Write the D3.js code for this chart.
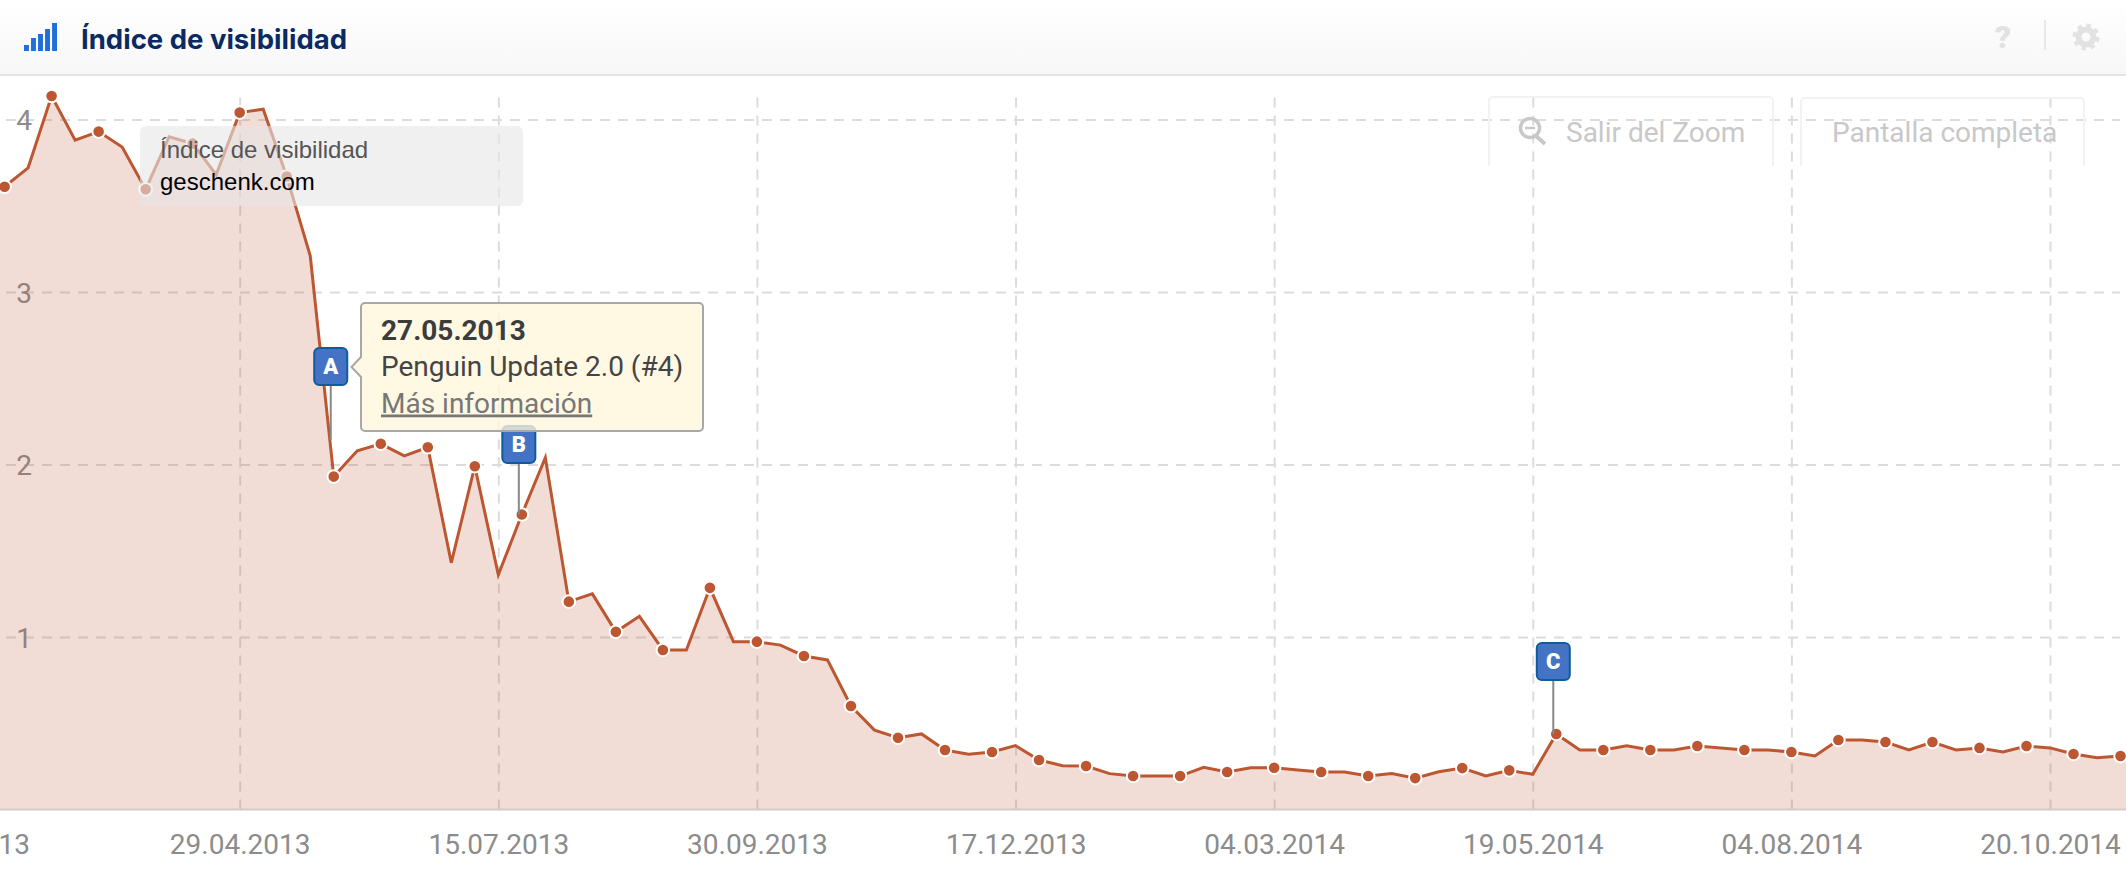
<!DOCTYPE html>
<html lang="es">
<head>
  <meta charset="UTF-8">
  <title>Índice de visibilidad</title>
  <style>
    html, body { margin: 0; padding: 0; background: #fff; overflow: hidden; }
    svg { display: block; font-family: Roboto, sans-serif; }
    .grid-axis path { display: none; }
    .grid-axis line { stroke: #dcdcdc; stroke-width: 2; stroke-dasharray: 10 8; }
    .grid-axis text { font-size: 28px; fill: #8c8c8c; font-family: Roboto, sans-serif; }
    .flag-label { font-size: 22px; font-weight: 900; fill: #fff; text-anchor: middle; }
  </style>
</head>
<body>
  <svg id="chart" width="2126" height="876"></svg>

  <script src="https://d3js.org/d3.v7.min.js"></script>
  <script>
    const weeks = [
      "2013-02-11","2013-02-18","2013-02-25","2013-03-04","2013-03-11","2013-03-18","2013-03-25","2013-04-01",
      "2013-04-08","2013-04-15","2013-04-22","2013-04-29","2013-05-06","2013-05-13","2013-05-20","2013-05-27",
      "2013-06-03","2013-06-10","2013-06-17","2013-06-24","2013-07-01","2013-07-08","2013-07-15","2013-07-22",
      "2013-07-29","2013-08-05","2013-08-12","2013-08-19","2013-08-26","2013-09-02","2013-09-09","2013-09-16",
      "2013-09-23","2013-09-30","2013-10-07","2013-10-14","2013-10-21","2013-10-28","2013-11-04","2013-11-11",
      "2013-11-18","2013-11-25","2013-12-02","2013-12-09","2013-12-16","2013-12-23","2013-12-30","2014-01-06",
      "2014-01-13","2014-01-20","2014-01-27","2014-02-03","2014-02-10","2014-02-17","2014-02-24","2014-03-03",
      "2014-03-10","2014-03-17","2014-03-24","2014-03-31","2014-04-07","2014-04-14","2014-04-21","2014-04-28",
      "2014-05-05","2014-05-12","2014-05-19","2014-05-26","2014-06-02","2014-06-09","2014-06-16","2014-06-23",
      "2014-06-30","2014-07-07","2014-07-14","2014-07-21","2014-07-28","2014-08-04","2014-08-11","2014-08-18",
      "2014-08-25","2014-09-01","2014-09-08","2014-09-15","2014-09-22","2014-09-29","2014-10-06","2014-10-13",
      "2014-10-20","2014-10-27","2014-11-03","2014-11-10","2014-11-17"
    ];
    const visibility = [
      3.55,3.61,3.72,4.136,3.88,3.93,3.84,3.595,
      3.90,3.86,3.68,4.04,4.06,3.67,3.21,1.93,
      2.08,2.12,2.05,2.10,1.43,1.99,1.36,1.71,
      2.04,1.205,1.25,1.03,1.12,0.925,0.925,1.285,
      0.973,0.973,0.953,0.89,0.867,0.60,0.46,0.416,
      0.438,0.345,0.32,0.333,0.37,0.287,0.254,0.252,
      0.208,0.194,0.194,0.194,0.245,0.217,0.242,0.242,
      0.229,0.217,0.217,0.194,0.208,0.182,0.219,0.24,
      0.194,0.227,0.204,0.438,0.345,0.345,0.37,0.345,
      0.345,0.368,0.357,0.345,0.345,0.333,0.31,0.403,
      0.403,0.391,0.345,0.391,0.345,0.357,0.333,0.368,
      0.357,0.322,0.30,0.31,0.32
    ];
    const yTicks = [1, 2, 3, 4];
    const xTicks = ["2013-02-11","2013-04-29","2013-07-15","2013-09-30","2013-12-16","2014-03-03","2014-05-19","2014-08-04","2014-10-20"];
    const xTickLabels = ["11.02.2013","29.04.2013","15.07.2013","30.09.2013","17.12.2013","04.03.2014","19.05.2014","04.08.2014","20.10.2014"];
    const flagWeeks = ["2013-05-27","2013-07-22","2014-05-26"];
    const flagLabels = ["A","B","C"];
    const iconBars = [6, 13, 17, 22, 28];

    const parse = d3.utcParse("%Y-%m-%d");
    const data = weeks.map((w, i) => ({ date: parse(w), value: visibility[i], i: i }));

    const svg = d3.select("#chart");
    const defs = svg.append("defs");
    const headGrad = defs.append("linearGradient").attr("id", "headGrad").attr("x1", 0).attr("x2", 0).attr("y1", 0).attr("y2", 1);
    headGrad.append("stop").attr("offset", "0%").attr("stop-color", "#ffffff");
    headGrad.append("stop").attr("offset", "100%").attr("stop-color", "#f7f7f7");

    const xScale = d3.scaleUtc()
      .domain([parse("2013-04-29"), parse("2014-10-20")])
      .range([239.7, 2050]);
    const yScale = d3.scaleLinear().domain([0, 4]).range([809.5, 119.5]);

    // grid + axes
    const xAxis = d3.axisBottom(xScale)
      .tickValues(xTicks.map(parse))
      .tickSize(-712)
      .tickFormat((d, i) => xTickLabels[i]);
    const xG = svg.append("g").attr("class", "grid-axis").attr("transform", "translate(0,809.5)").call(xAxis);
    xG.selectAll("text").attr("y", 44).attr("dy", 0).attr("dx", (d, i) => i === 0 ? -22 : 0);

    const yAxis = d3.axisLeft(yScale).tickValues(yTicks).tickSize(-2114).tickFormat(d3.format("d"));
    const yG = svg.append("g").attr("class", "grid-axis").attr("transform", "translate(6,0)").call(yAxis);
    yG.selectAll("text").attr("text-anchor", "middle").attr("x", 18).attr("dy", "0.36em");

    // buttons behind the series
    [[1489, 284, "Salir del Zoom", 1566, 97], [1801, 283, "Pantalla completa", 1832, 98]].forEach(b => {
      svg.append("path")
        .attr("d", `M${b[0]},166 V${b[4] + 4} a4,4 0 0 1 4,-4 H${b[0] + b[1] - 4} a4,4 0 0 1 4,4 V166`)
        .attr("fill", "none").attr("stroke", "#f2f2f2").attr("stroke-width", 2);
      svg.append("text").attr("x", b[3]).attr("y", 142)
        .attr("font-size", 28).attr("fill", "#c8c8c8").text(b[2]);
    });
    const zoomIcon = svg.append("g").attr("fill", "none").attr("stroke", "#c8c8c8");
    zoomIcon.append("circle").attr("cx", 1530).attr("cy", 128).attr("r", 9.5).attr("stroke-width", 3.5);
    zoomIcon.append("line").attr("x1", 1536).attr("y1", 136).attr("x2", 1545).attr("y2", 144).attr("stroke-width", 4);
    zoomIcon.append("line").attr("x1", 1525).attr("y1", 128).attr("x2", 1535).attr("y2", 128).attr("stroke-width", 2.5);

    // series
    const area = d3.area().x(d => xScale(d.date)).y0(yScale(0)).y1(d => yScale(d.value));
    const line = d3.line().x(d => xScale(d.date)).y(d => yScale(d.value));
    svg.append("path").datum(data).attr("d", area).attr("fill", "#bd5732").attr("fill-opacity", 0.2);
    svg.append("line").attr("x1", 0).attr("x2", 2126).attr("y1", yScale(0)).attr("y2", yScale(0)).attr("stroke", "#d2cbc8").attr("stroke-width", 2);
    svg.append("path").datum(data).attr("d", line).attr("fill", "none").attr("stroke", "#bd5732").attr("stroke-width", 3);
    svg.selectAll("circle.pt")
      .data(data.filter(d => d.i % 2 === 1))
      .enter()
      .append("circle")
      .attr("class", "pt")
      .attr("cx", d => xScale(d.date))
      .attr("cy", d => yScale(d.value))
      .attr("r", 6.3)
      .attr("fill", "#bd5732")
      .attr("stroke", "#fff")
      .attr("stroke-width", 2);

    // flags
    const flagBottom = [385, 463, 680];
    flagWeeks.forEach((w, i) => {
      const cx = xScale(parse(w)) - 3;
      const value = visibility[weeks.indexOf(w)];
      const stemEnd = i === 0 ? flagBottom[0] + 55 : yScale(value);
      svg.append("line").attr("x1", cx).attr("x2", cx).attr("y1", flagBottom[i]).attr("y2", stemEnd)
        .attr("stroke", "#888").attr("stroke-width", 2);
      svg.append("rect").attr("x", cx - 16.5).attr("y", flagBottom[i] - 37).attr("width", 33).attr("height", 37)
        .attr("rx", 5).attr("fill", "#4472c4").attr("stroke", "#0f5c9c").attr("stroke-width", 2);
      svg.append("text").attr("class", "flag-label").attr("x", cx).attr("y", flagBottom[i] - 11).text(flagLabels[i]);
    });

    // flag tooltip
    const tip = svg.append("g");
    tip.append("path")
      .attr("d", "M365,303 H699 a4,4 0 0 1 4,4 V427 a4,4 0 0 1 -4,4 H365 a4,4 0 0 1 -4,-4 V377 L351.5,367 L361,357 V307 a4,4 0 0 1 4,-4 Z")
      .attr("fill", "#fff7dd").attr("fill-opacity", 0.78).attr("stroke", "#a8a8a8").attr("stroke-width", 2);
    tip.append("text").attr("x", 381).attr("y", 340).attr("font-size", 28).attr("font-weight", 700).attr("fill", "#3c3c3c").text("27.05.2013");
    tip.append("text").attr("x", 381).attr("y", 376).attr("font-size", 28).attr("fill", "#444").text("Penguin Update 2.0 (#4)");
    tip.append("text").attr("x", 381).attr("y", 412.5).attr("font-size", 28).attr("fill", "#777").attr("text-decoration", "underline").text("Más información");

    // series name box
    svg.append("rect").attr("x", 140).attr("y", 126).attr("width", 383).attr("height", 80).attr("rx", 6)
      .attr("fill", "#e6e6e6").attr("fill-opacity", 0.6);
    svg.append("text").attr("x", 160).attr("y", 157.5).attr("font-family", "'Liberation Sans', Arial, sans-serif")
      .attr("font-size", 24).attr("fill", "#555").text("Índice de visibilidad");
    svg.append("text").attr("x", 160).attr("y", 190).attr("font-family", "'Liberation Sans', Arial, sans-serif")
      .attr("font-size", 24).attr("fill", "#000").text("geschenk.com");

    // header
    svg.append("rect").attr("width", 2126).attr("height", 75).attr("fill", "url(#headGrad)");
    svg.append("line").attr("x1", 0).attr("x2", 2126).attr("y1", 75).attr("y2", 75).attr("stroke", "#e4e4e4").attr("stroke-width", 2);
    const barX = d3.scaleBand().domain(d3.range(iconBars.length)).range([24, 57]).paddingInner(0.3);
    svg.selectAll("rect.icon")
      .data(iconBars)
      .enter()
      .append("rect")
      .attr("class", "icon")
      .attr("x", (d, i) => barX(i))
      .attr("y", d => 51 - d)
      .attr("width", barX.bandwidth())
      .attr("height", d => d)
      .attr("fill", "#1e6fd9");
    svg.append("text").attr("x", 81).attr("y", 49).attr("font-family", "Inter, sans-serif")
      .attr("font-size", 27.5).attr("font-weight", 700).attr("fill", "#0b2a63").text("Índice de visibilidad");
    svg.append("text").attr("x", 2003).attr("y", 48).attr("text-anchor", "middle")
      .attr("font-size", 32).attr("font-weight", 900).attr("fill", "#e2e2e2").text("?");
    svg.append("line").attr("x1", 2045).attr("x2", 2045).attr("y1", 20).attr("y2", 50).attr("stroke", "#e2e2e2").attr("stroke-width", 1.5);
    const gear = svg.append("g").attr("fill", "none").attr("stroke", "#e2e2e2");
    gear.append("circle").attr("cx", 2086).attr("cy", 37).attr("r", 7.5).attr("stroke-width", 6);
    gear.append("circle").attr("cx", 2086).attr("cy", 37).attr("r", 11.5).attr("stroke-width", 4)
      .attr("stroke-dasharray", "4.5 4.53");
  </script>
</body>
</html>
